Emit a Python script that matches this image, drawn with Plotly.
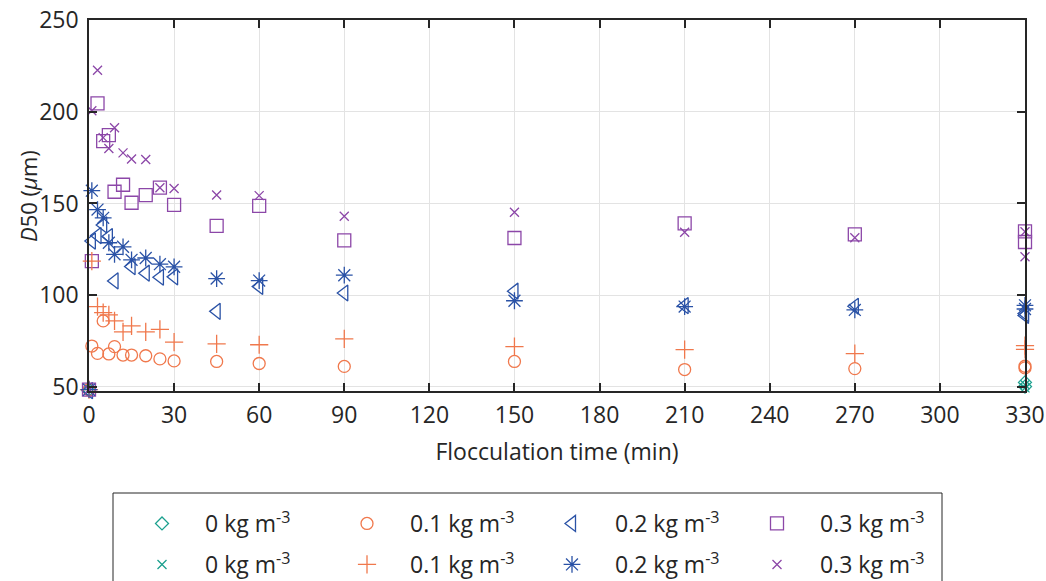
import plotly.graph_objects as go

# Flocculation times (min); 330 appears twice (two readings at the final time)
times = [0, 1, 3, 5, 7, 9, 12, 15, 20, 25, 30, 45, 60, 90, 150, 210, 270, 330, 330]

N = None
d50_0_a = [48.5, N, N, N, N, N, N, N, N, N, N, N, N, N, N, N, N, 52.5, 50.2]
d50_0_b = [48.5, N, N, N, N, N, N, N, N, N, N, N, N, N, N, N, N, 51.2, 49.5]
d50_01_a = [48.5, 72.3, 68.3, 86.0, 68.0, 72.0, 67.4, 67.4, 67.0, 65.3, 64.2,
            63.9, 62.8, 61.2, 63.9, 59.5, 60.0, 61.3, 60.4]
d50_01_b = [48.5, 118.6, 93.8, 90.5, 89.3, 86.0, 80.0, 83.3, 80.0, 81.4, 74.4,
            73.5, 73.0, 76.2, 72.0, 70.3, 68.2, 72.5, 70.5]
d50_02_a = [48.0, 129.5, 132.5, 138.3, 132.0, 107.8, N, 115.6, 112.0, 109.8, 110.0,
            91.2, 104.8, 101.2, 102.2, 94.3, 94.0, 90.0, 89.0]
d50_02_b = [48.5, 157.0, 146.7, 142.2, 128.6, 122.3, 126.4, 119.3, 120.3, 116.9, 115.5,
            109.1, 108.0, 110.9, 97.0, 93.8, 92.0, 94.5, 92.5]
d50_03_a = [48.5, 118.6, 204.6, 184.0, 187.3, 156.4, 160.2, 150.4, 154.6, 158.6, 149.2,
            137.8, 148.7, 129.9, 131.2, 139.2, 133.2, 134.8, 129.0]
d50_03_b = [48.5, 200.5, 222.6, 185.9, 180.0, 191.3, 177.6, 174.2, 174.0, 158.6, 158.2,
            154.6, 154.3, 143.0, 145.2, 134.3, 131.3, 134.6, 121.0]

labels = ["0 kg m<sup>-3</sup>", "0.1 kg m<sup>-3</sup>",
          "0.2 kg m<sup>-3</sup>", "0.3 kg m<sup>-3</sup>"]

teal = "#1BA08E"
orange = "#F0784C"
blue = "#2A52A6"
purple = "#8C47A8"

series = [
    (d50_0_a, labels[0], teal, "diamond-open", 10, "legend"),
    (d50_01_a, labels[1], orange, "circle-open", 12, "legend"),
    (d50_02_a, labels[2], blue, "triangle-left-open", 14, "legend"),
    (d50_03_a, labels[3], purple, "square-open", 13, "legend"),
    (d50_0_b, labels[0], teal, "x-thin-open", 9, "legend2"),
    (d50_01_b, labels[1], orange, "cross-thin-open", 13, "legend2"),
    (d50_02_b, labels[2], blue, "asterisk-open", 14, "legend2"),
    (d50_03_b, labels[3], purple, "x-thin-open", 9, "legend2"),
]

fig = go.Figure()
for vals, name, col, sym, sz, lg in series:
    fig.add_trace(go.Scatter(
        x=times, y=vals, mode="markers", name=name, cliponaxis=False, legend=lg,
        marker=dict(symbol=sym, size=sz, color=col, line=dict(color=col, width=1.3)),
    ))

TXT = "#262626"
axis_common = dict(
    showgrid=True, gridcolor="#e3e3e3", gridwidth=1,
    showline=True, linecolor=TXT, linewidth=1.5, mirror="ticks",
    ticks="inside", ticklen=8, tickwidth=1.5, tickcolor=TXT,
    zeroline=False, tickfont=dict(size=23, color=TXT), automargin=False,
)

fig.update_xaxes(range=[0, 330], tickvals=list(range(0, 331, 30)), ticklabelstandoff=3,
                 title=dict(text="Flocculation time (min)", font=dict(size=23, color=TXT), standoff=15),
                 **axis_common)
fig.update_yaxes(range=[47.8, 250], tickvals=[50, 100, 150, 200, 250], ticklabelstandoff=4,
                 **axis_common)

leg_common = dict(
    orientation="h", xref="container", yref="container", xanchor="left", yanchor="top",
    borderwidth=0, bgcolor="rgba(0,0,0,0)",
    entrywidth=114, entrywidthmode="pixels", itemwidth=76,
    font=dict(size=23, color=TXT), traceorder="normal",
)

fig.update_layout(
    width=1046, height=581,
    margin=dict(l=89, r=21, t=20, b=190, autoexpand=False),
    plot_bgcolor="white", paper_bgcolor="white",
    font=dict(family="Open Sans", size=20, color=TXT),
    legend=dict(x=119 / 1046, y=1 - 502 / 581, **leg_common),
    legend2=dict(x=119 / 1046, y=1 - 543 / 581, **leg_common),
    shapes=[dict(type="rect", xref="paper", yref="paper",
                 x0=(113 - 89) / 936, x1=(942 - 89) / 936,
                 y0=(391 - 493) / 371, y1=(391 - 610) / 371,
                 line=dict(color=TXT, width=1), fillcolor="rgba(0,0,0,0)", layer="above")],
    annotations=[dict(text="<i>D</i>50 (<i>μ</i>m)", textangle=-90, showarrow=False,
                      xref="paper", yref="paper", x=(28 - 89) / 936, y=(391 - 196) / 371,
                      xanchor="center", yanchor="middle", font=dict(size=22, color=TXT))],
)

fig.write_html("out.html", post_script="document.body.style.margin='0';",
               config={"displayModeBar": False})
